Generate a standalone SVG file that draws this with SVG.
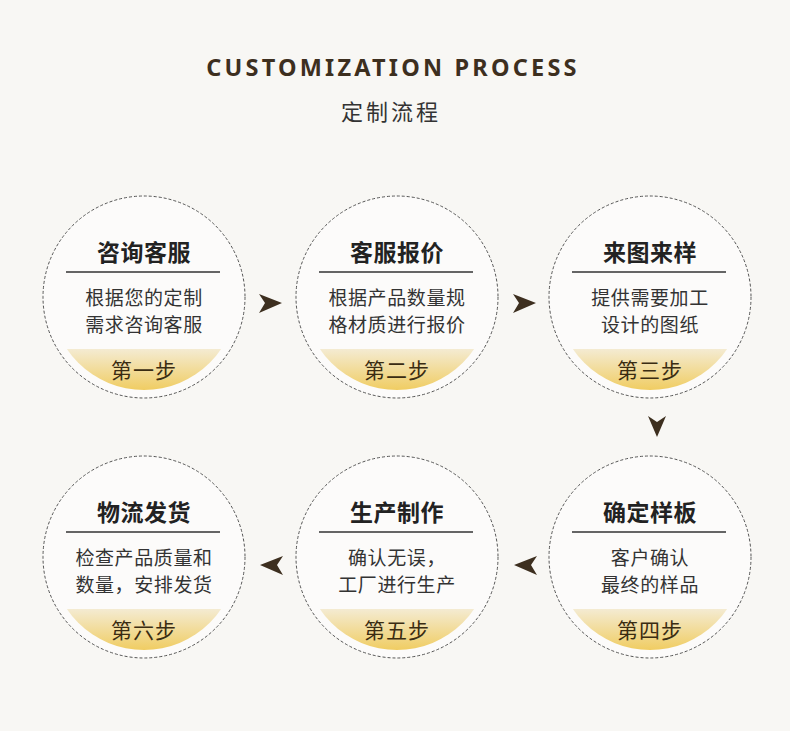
<svg xmlns="http://www.w3.org/2000/svg" width="790" height="731" viewBox="0 0 790 731">
<defs>
<linearGradient id="gold" x1="0" y1="0" x2="0" y2="1">
<stop offset="0" stop-color="#f4ebd2"/>
<stop offset="1" stop-color="#efc64a"/>
</linearGradient>
<style>
.ring{fill:#fff;fill-opacity:0.5;stroke:#555;stroke-width:1;stroke-dasharray:3 2}
.ttl{font-family:"Noto Sans CJK SC",sans-serif;font-weight:bold;font-size:23px;letter-spacing:0.5px;fill:#222;text-anchor:middle}
.body{font-family:"Noto Sans CJK SC",sans-serif;font-size:19px;letter-spacing:0.6px;fill:#333;text-anchor:middle}
.step{font-family:"Noto Sans CJK SC",sans-serif;font-size:21px;letter-spacing:1px;fill:#3a2c12;text-anchor:middle}
.rule{stroke:#333;stroke-width:1.5}
.arr{fill:#3d2f1f}
</style>
<clipPath id="c1"><circle cx="144" cy="297" r="93"/></clipPath>
<clipPath id="c2"><circle cx="397" cy="297" r="93"/></clipPath>
<clipPath id="c3"><circle cx="650" cy="297" r="93"/></clipPath>
<clipPath id="c4"><circle cx="650" cy="557" r="93"/></clipPath>
<clipPath id="c5"><circle cx="397" cy="557" r="93"/></clipPath>
<clipPath id="c6"><circle cx="144" cy="557" r="93"/></clipPath>
</defs>
<rect width="790" height="731" fill="#f8f7f4"/>
<text x="393" y="76" font-family="Noto Sans, sans-serif" font-weight="bold" font-size="23.5" letter-spacing="3.2" fill="#3d2f1f" text-anchor="middle">CUSTOMIZATION PROCESS</text>
<text x="391" y="120" font-family="Noto Sans CJK SC, sans-serif" font-size="22" letter-spacing="3" fill="#333" text-anchor="middle">定制流程</text>

<g id="node1">
<circle class="ring" cx="144" cy="297" r="101"/>
<rect clip-path="url(#c1)" x="40" y="349" width="210" height="50" fill="url(#gold)"/>
<text class="ttl" x="144" y="261">咨询客服</text>
<line class="rule" x1="66" y1="272" x2="220" y2="272"/>
<text class="body" x="144" y="305">根据您的定制</text>
<text class="body" x="144" y="332">需求咨询客服</text>
<text class="step" x="144" y="378">第一步</text>
</g>
<g id="node2">
<circle class="ring" cx="397" cy="297" r="101"/>
<rect clip-path="url(#c2)" x="293" y="349" width="210" height="50" fill="url(#gold)"/>
<text class="ttl" x="397" y="261">客服报价</text>
<line class="rule" x1="319" y1="272" x2="473" y2="272"/>
<text class="body" x="397" y="305">根据产品数量规</text>
<text class="body" x="397" y="332">格材质进行报价</text>
<text class="step" x="397" y="378">第二步</text>
</g>
<g id="node3">
<circle class="ring" cx="650" cy="297" r="101"/>
<rect clip-path="url(#c3)" x="546" y="349" width="210" height="50" fill="url(#gold)"/>
<text class="ttl" x="650" y="261">来图来样</text>
<line class="rule" x1="572" y1="272" x2="726" y2="272"/>
<text class="body" x="650" y="305">提供需要加工</text>
<text class="body" x="650" y="332">设计的图纸</text>
<text class="step" x="650" y="378">第三步</text>
</g>
<g id="node4">
<circle class="ring" cx="650" cy="557" r="101"/>
<rect clip-path="url(#c4)" x="546" y="609" width="210" height="50" fill="url(#gold)"/>
<text class="ttl" x="650" y="521">确定样板</text>
<line class="rule" x1="572" y1="532" x2="726" y2="532"/>
<text class="body" x="650" y="565">客户确认</text>
<text class="body" x="650" y="592">最终的样品</text>
<text class="step" x="650" y="638">第四步</text>
</g>
<g id="node5">
<circle class="ring" cx="397" cy="557" r="101"/>
<rect clip-path="url(#c5)" x="293" y="609" width="210" height="50" fill="url(#gold)"/>
<text class="ttl" x="397" y="521">生产制作</text>
<line class="rule" x1="319" y1="532" x2="473" y2="532"/>
<text class="body" x="397" y="565">确认无误，</text>
<text class="body" x="397" y="592">工厂进行生产</text>
<text class="step" x="397" y="638">第五步</text>
</g>
<g id="node6">
<circle class="ring" cx="144" cy="557" r="101"/>
<rect clip-path="url(#c6)" x="40" y="609" width="210" height="50" fill="url(#gold)"/>
<text class="ttl" x="144" y="521">物流发货</text>
<line class="rule" x1="66" y1="532" x2="220" y2="532"/>
<text class="body" x="144" y="565">检查产品质量和</text>
<text class="body" x="144" y="592">数量，安排发货</text>
<text class="step" x="144" y="638">第六步</text>
</g>

<g id="connectors">
<polygon class="arr" points="259,294 282,303 259,313 265,303"/>
<polygon class="arr" points="513,294 536,303 513,313 519,303"/>
<polygon class="arr" points="648,416 657,437 666,416 657,422"/>
<polygon class="arr" points="537,556 514,565 537,575 531,565"/>
<polygon class="arr" points="283,556 260,565 283,575 277,565"/>
</g>
</svg>
